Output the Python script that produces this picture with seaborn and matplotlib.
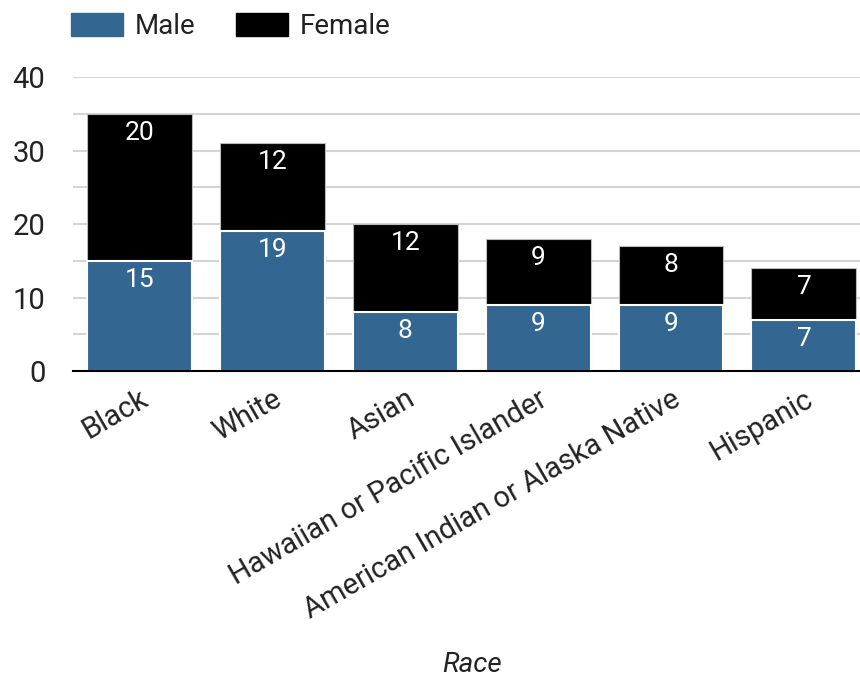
import matplotlib
matplotlib.use("Agg")
import matplotlib.pyplot as plt
from matplotlib.patches import Patch
import seaborn as sns
import pandas as pd

races = ["Black", "White", "Asian", "Hawaiian or Pacific Islander",
         "American Indian or Alaska Native", "Hispanic"]
male = [15, 19, 8, 9, 9, 7]
female = [20, 12, 12, 9, 8, 7]
y_ticks = [0, 10, 20, 30, 40]

MALE_COLOR = "#336690"
FEMALE_COLOR = "#000000"

sns.set_theme(style="white")
plt.rcParams["font.family"] = ["Roboto", "DejaVu Sans"]

df = pd.DataFrame({"race": races, "male": male, "female": female})
df["total"] = df["male"] + df["female"]

fig = plt.figure(figsize=(8.6, 6.77), dpi=100)
ax = fig.add_axes([0.085, 0.452, 0.927, 0.434])

# Female segment sits on top of the male segment: draw totals first, then male over it
sns.barplot(data=df, x="race", y="total", color=FEMALE_COLOR, saturation=1,
            width=0.79, edgecolor="#bbbbbb", linewidth=0.8, ax=ax, zorder=2)
sns.barplot(data=df, x="race", y="male", color=MALE_COLOR, saturation=1,
            width=0.79, edgecolor="white", linewidth=1.5, ax=ax, zorder=3)

for i, (m, f) in enumerate(zip(male, female)):
    ax.annotate(str(f), xy=(i, m + f), xytext=(0, -5), textcoords="offset points",
                ha="center", va="top", color="white", fontsize=19, zorder=5)
    ax.annotate(str(m), xy=(i, m), xytext=(0, -5), textcoords="offset points",
                ha="center", va="top", color="white", fontsize=19, zorder=5)

ax.set_ylim(0, 40)
ax.set_yticks(y_ticks)
ax.set_yticks(range(0, 41, 5), minor=True)
ax.yaxis.grid(True, which="both", color="#d4d4d4", linewidth=1.5, zorder=0)
ax.set_axisbelow(True)
ax.tick_params(axis="y", which="both", length=0, pad=20, labelsize=21, labelcolor="#222222")
ax.tick_params(axis="x", length=0, pad=10)
ax.set_xticks(range(len(races)))
ax.set_xticklabels(races, rotation=30, ha="right", rotation_mode="anchor",
                   fontsize=21, color="#222222")

for side in ["top", "right", "left"]:
    ax.spines[side].set_visible(False)
ax.spines["bottom"].set_color("black")
ax.spines["bottom"].set_linewidth(1.5)
ax.spines["bottom"].set_zorder(4)

ax.set_ylabel("")
ax.set_xlabel("Race", fontsize=20, style="italic", color="#222222")
ax.xaxis.set_label_coords(0.5, -0.955)

handles = [Patch(facecolor=MALE_COLOR, edgecolor=MALE_COLOR, label="Male"),
           Patch(facecolor=FEMALE_COLOR, edgecolor=FEMALE_COLOR, label="Female")]
leg = ax.legend(handles=handles, loc="lower left", bbox_to_anchor=(-0.003, 1.125),
                ncol=2, frameon=False, fontsize=20, handlelength=1.9,
                handleheight=0.9, handletextpad=0.4, columnspacing=1.45,
                borderaxespad=0, borderpad=0)
for t in leg.get_texts():
    t.set_color("#222222")

fig.savefig("out.png", dpi=100)
